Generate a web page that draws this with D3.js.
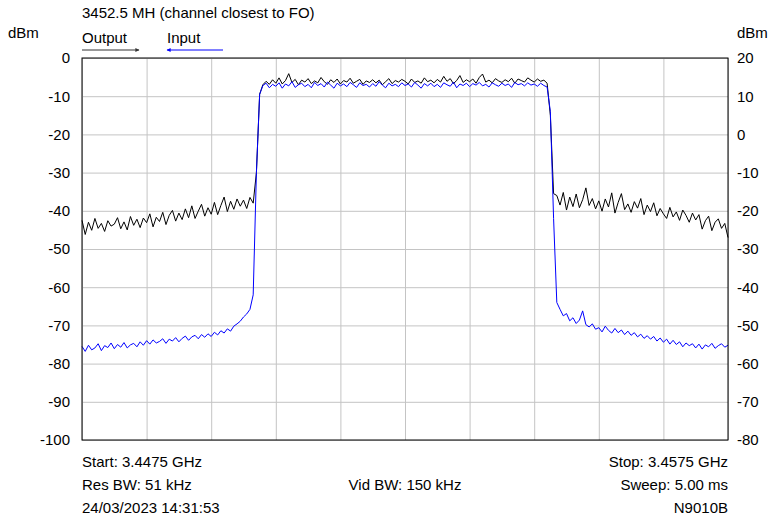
<!DOCTYPE html>
<html>
<head>
<meta charset="utf-8">
<script src="https://cdn.jsdelivr.net/npm/d3@7"></script>
<style>
  body { margin: 0; background: #fff; }
  svg { display: block; font-family: "Liberation Sans", Arial, sans-serif; }
</style>
</head>
<body>
<svg id="chart" width="768" height="517"></svg>
<script>
// Sweep span (GHz)
const startGHz = 3.4475;
const stopGHz = 3.4575;

// Input trace, left axis (dBm), 201 points across the span
const inputDbm = [
  -75.5, -76.8, -75.2, -76.4, -75.9, -74.8, -76.6, -75.3, -75.8, -74.6,
  -76.1, -75.0, -75.7, -74.5, -75.9, -75.1, -74.7, -75.6, -74.3, -75.2,
  -74.0, -74.9, -73.8, -74.6, -74.2, -73.5, -74.7, -73.6, -74.1, -73.2,
  -74.3, -73.4, -72.8, -73.9, -73.0, -72.6, -73.5, -72.4, -73.1, -72.2,
  -72.9, -71.8, -72.5, -71.4, -72.0, -70.9, -71.5, -70.2, -69.6, -68.9,
  -67.8, -67.0, -65.8, -62.0, -30.0, -9.5, -7.2, -6.6, -7.8, -6.9,
  -7.4, -6.5, -7.9, -6.8, -7.3, -6.2, -7.7, -7.0, -6.6, -7.5,
  -6.9, -7.8, -6.4, -7.2, -6.7, -7.6, -6.3, -7.1, -7.9, -6.6,
  -7.3, -6.8, -7.5, -6.4, -7.0, -7.7, -6.5, -7.2, -6.9, -7.6,
  -6.7, -7.4, -6.2, -7.1, -7.8, -6.6, -7.3, -6.9, -7.5, -6.5,
  -7.2, -6.8, -7.6, -6.4, -7.1, -7.9, -6.7, -7.3, -6.6, -7.5,
  -6.9, -7.7, -6.5, -7.0, -7.4, -6.3, -7.8, -6.8, -7.2, -6.6,
  -7.5, -6.7, -7.1, -6.4, -7.3, -6.9, -7.6, -6.5, -7.0, -7.4,
  -6.6, -7.2, -6.8, -7.7, -6.4, -7.0, -6.7, -7.3, -6.5, -7.1,
  -6.8, -7.4, -6.6, -7.2, -7.6, -14.0, -42.0, -64.0, -65.8, -67.5,
  -66.9, -68.8, -68.0, -69.5, -68.6, -66.2, -69.8, -70.4, -69.6, -71.0,
  -70.6, -71.7, -70.2, -71.3, -72.0, -70.8, -71.9, -71.2, -72.4, -71.5,
  -72.6, -71.9, -73.0, -72.3, -73.4, -72.7, -73.6, -72.9, -74.1, -73.3,
  -74.4, -73.6, -74.9, -73.9, -75.0, -74.3, -75.6, -74.6, -75.3, -74.8,
  -75.9, -74.9, -76.2, -75.1, -75.6, -74.7, -76.0, -75.3, -74.8, -75.7,
  -75.2
];

// Output trace, right axis (dBm), same sweep points
const outputDbm = [
  -22.5, -26.2, -23.0, -25.1, -22.0, -24.6, -23.3, -25.4, -22.6, -24.0,
  -23.5, -21.8, -24.7, -22.9, -25.0, -21.5, -23.8, -22.2, -24.4, -21.9,
  -23.1, -20.8, -24.2, -21.7, -22.8, -20.4, -23.6, -21.2, -19.9, -22.7,
  -20.6, -22.3, -19.5, -21.8, -18.7, -22.0, -20.1, -18.3, -21.4, -19.2,
  -20.9, -17.8, -21.0, -18.6, -16.4, -20.2, -17.5, -19.6, -16.9, -18.8,
  -17.2, -19.4, -16.5, -18.0, -10.0, 10.5, 13.0, 13.9, 13.1, 14.3,
  13.4, 14.8, 13.2, 14.1, 15.9, 13.6, 14.4, 13.0, 14.2, 13.7,
  14.6, 13.3, 14.0, 13.5, 14.9, 13.8, 13.1, 14.3, 13.6, 14.5,
  13.2, 14.1, 13.7, 14.7, 13.4, 13.9, 14.4, 13.1, 14.0, 13.6,
  14.3, 13.5, 14.2, 13.0, 13.8, 14.6, 13.3, 14.1, 13.7, 14.4,
  13.9, 13.2, 14.5, 13.6, 14.0, 13.4, 14.8, 13.8, 14.2, 13.5,
  14.4, 13.7, 15.2, 13.9, 14.6, 13.3, 14.1, 15.4, 13.6, 14.3,
  13.8, 14.5, 13.4, 14.9, 15.8, 13.7, 14.2, 13.5, 14.6, 14.0,
  13.6, 14.3, 13.8, 14.7, 13.4, 14.5, 14.1, 13.7, 14.8, 14.2,
  13.7, 14.5, 13.9, 14.2, 13.4, 5.0, -15.5, -16.0, -18.5, -15.2,
  -19.8, -16.4, -18.9, -15.6, -19.2, -17.1, -14.0, -18.6, -16.8, -19.5,
  -17.4, -20.1, -16.9, -19.0, -15.3, -20.6, -17.8, -15.5, -19.7, -18.2,
  -20.4, -17.6, -19.3, -16.8, -21.0, -18.5, -20.2, -17.9, -21.3, -19.4,
  -20.8, -22.0, -19.1, -21.6, -20.3, -22.5, -19.8, -21.2, -23.0, -20.6,
  -22.4, -21.0, -24.8, -22.6, -21.4, -25.2, -23.0, -22.1, -24.6, -23.3,
  -27.0
];

// Tick values
const leftTicks = d3.range(-100, 1, 10);
const rightTicks = d3.range(-80, 21, 10);

// Annotation texts
const titleText = '3452.5 MH (channel closest to FO)';
const footerLeft = ['Start: 3.4475 GHz', 'Res BW: 51 kHz', '24/03/2023 14:31:53'];
const footerRight = ['Stop: 3.4575 GHz', 'Sweep: 5.00 ms', 'N9010B'];
const footerMid = 'Vid BW: 150 kHz';

// Plot box
const X0 = 82, X1 = 728, Y0 = 58, Y1 = 440;
const FS = 15;

const svg = d3.select('#chart');

const x = d3.scaleLinear().domain([startGHz, stopGHz]).range([X0, X1]);
const yL = d3.scaleLinear().domain([-100, 0]).range([Y1, Y0]);
const yR = d3.scaleLinear().domain([-80, 20]).range([Y1, Y0]);

// sweep point i -> frequency
const freqAt = (n) => (i) => startGHz + (stopGHz - startGHz) * i / (n - 1);
const fIn = freqAt(inputDbm.length);
const fOut = freqAt(outputDbm.length);

// Grid
const xGridVals = d3.range(0, 11).map(k => startGHz + (stopGHz - startGHz) * k / 10);
svg.append('g')
    .attr('transform', `translate(0,${Y1})`)
    .call(d3.axisBottom(x).tickValues(xGridVals).tickSize(-(Y1 - Y0)).tickFormat(''))
    .call(g => g.select('.domain').remove())
    .call(g => g.selectAll('line').attr('stroke', '#c4c4c4'));
svg.append('g')
    .attr('transform', `translate(${X0},0)`)
    .call(d3.axisLeft(yL).tickValues(leftTicks).tickSize(-(X1 - X0)).tickFormat(''))
    .call(g => g.select('.domain').remove())
    .call(g => g.selectAll('line').attr('stroke', '#c4c4c4'));

// Tick labels
svg.append('g')
    .attr('transform', `translate(${X0},0)`)
    .call(d3.axisLeft(yL).tickValues(leftTicks).tickSize(0).tickPadding(12).tickFormat(d => String(d)))
    .call(g => g.select('.domain').remove())
    .call(g => g.selectAll('text').attr('font-size', FS).attr('font-family', null).attr('fill', '#000'));
svg.append('g')
    .attr('transform', `translate(${X1},0)`)
    .call(d3.axisRight(yR).tickValues(rightTicks).tickSize(0).tickPadding(9).tickFormat(d => String(d)))
    .call(g => g.select('.domain').remove())
    .call(g => g.selectAll('text').attr('font-size', FS).attr('font-family', null).attr('fill', '#000'));

// Traces
const lineOut = d3.line().x((d, i) => x(fOut(i))).y(d => yR(d));
const lineIn = d3.line().x((d, i) => x(fIn(i))).y(d => yL(d));
svg.append('path').datum(outputDbm)
    .attr('d', lineOut).attr('fill', 'none').attr('stroke', '#000').attr('stroke-width', 1);
svg.append('path').datum(inputDbm)
    .attr('d', lineIn).attr('fill', 'none').attr('stroke', '#0000ff').attr('stroke-width', 1);

// Frame
svg.append('rect')
    .attr('x', X0).attr('y', Y0).attr('width', X1 - X0).attr('height', Y1 - Y0)
    .attr('fill', 'none').attr('stroke', '#000').attr('stroke-width', 1);

// Header texts
const txt = (tx, ty, s, anchor = 'start') => svg.append('text')
    .attr('x', tx).attr('y', ty).attr('font-size', FS).attr('text-anchor', anchor).text(s);
txt(82, 18, titleText);
txt(8, 38, 'dBm');
txt(737, 38, 'dBm');
txt(82, 43, 'Output');
txt(167, 43, 'Input');

// Legend arrows
const defs = svg.append('defs');
const marker = (id, color) => defs.append('marker')
    .attr('id', id).attr('viewBox', '0 0 10 10').attr('refX', 9).attr('refY', 5)
    .attr('markerWidth', 6).attr('markerHeight', 4).attr('orient', 'auto')
    .append('path').attr('d', 'M0,0L10,5L0,10z').attr('fill', color);
marker('arrBlack', '#333');
marker('arrBlue', '#0000ff');
svg.append('line').attr('x1', 82).attr('x2', 139).attr('y1', 50).attr('y2', 50)
    .attr('stroke', '#333').attr('stroke-width', 1).attr('marker-end', 'url(#arrBlack)');
svg.append('line').attr('x1', 223).attr('x2', 167).attr('y1', 50).attr('y2', 50)
    .attr('stroke', '#0000ff').attr('stroke-width', 1).attr('marker-end', 'url(#arrBlue)');

// Footer
footerLeft.forEach((s, i) => txt(82, 467 + i * 23, s));
footerRight.forEach((s, i) => txt(728, 467 + i * 23, s, 'end'));
txt(405, 490, footerMid, 'middle');
</script>
</body>
</html>
